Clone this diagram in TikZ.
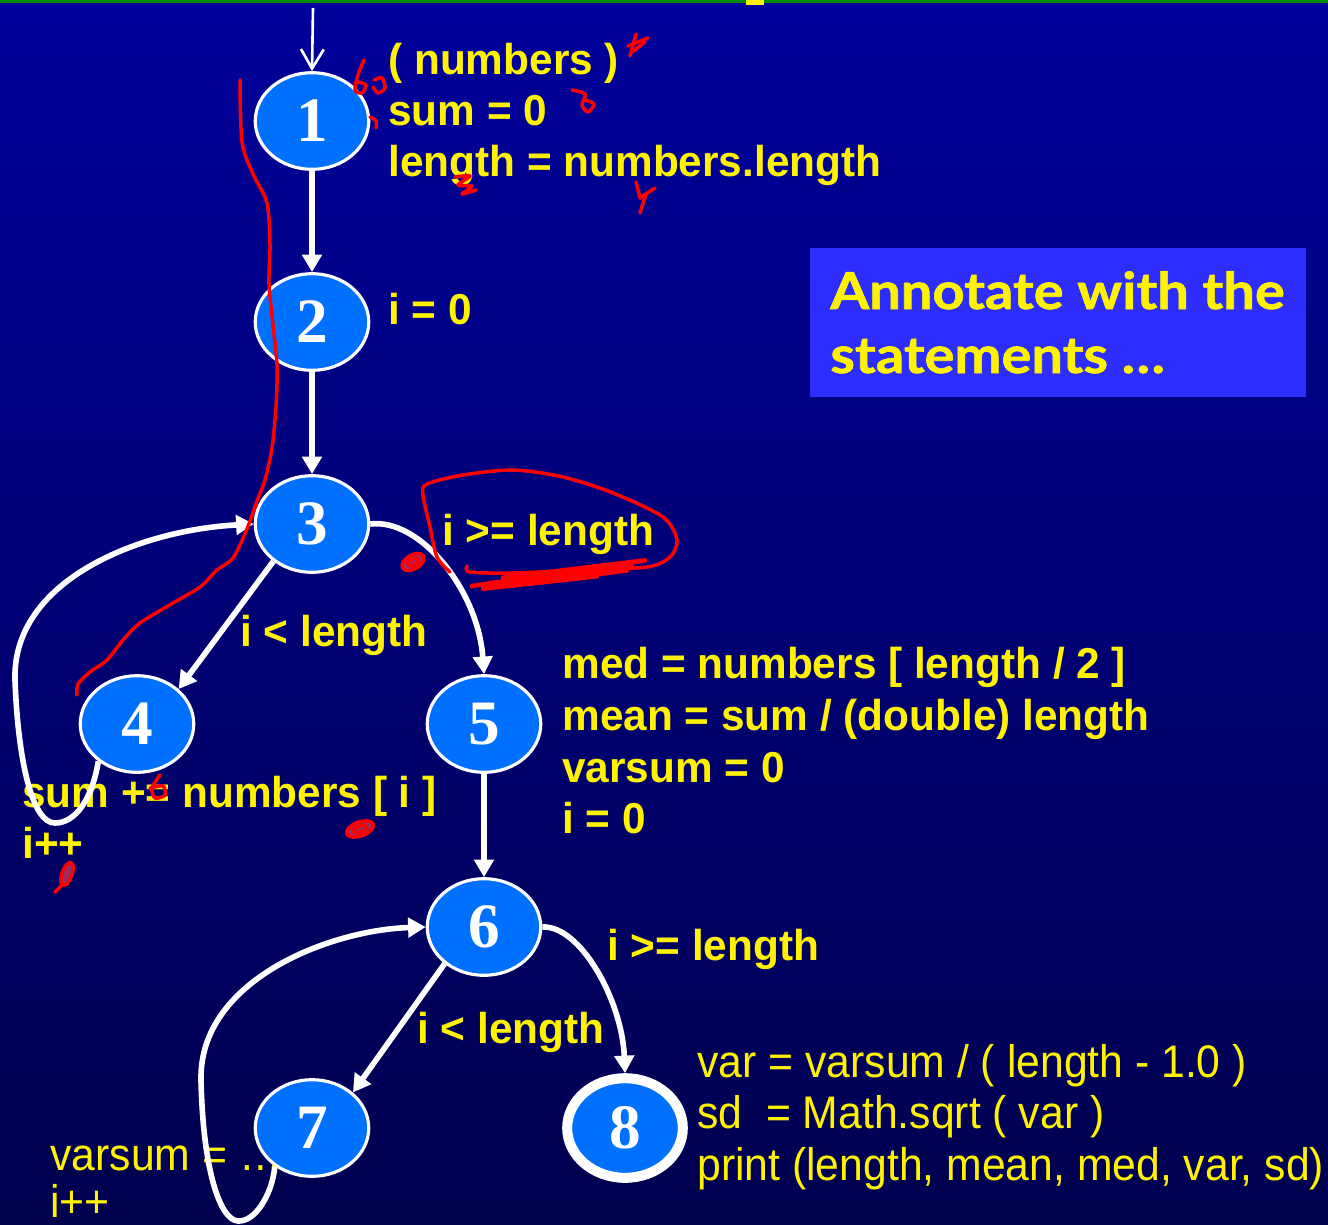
\documentclass[tikz,border=0pt]{standalone}
\usepackage{fontspec}
\setmainfont{Liberation Sans}
\newfontfamily\lblfont{Liberation Sans}[FakeStretch=0.98]
\newfontfamily\regfont{Liberation Sans}[FakeStretch=0.935]
\newfontfamily\numfont{Liberation Serif}
\newfontfamily\boxfont{Lato}[FakeStretch=1.1,FakeBold=1.2]
\usetikzlibrary{shapes.geometric,arrows.meta}
\definecolor{bgtop}{RGB}{0,0,155}
\definecolor{bgbot}{RGB}{0,0,78}
\definecolor{nodeblue}{RGB}{0,112,255}
\definecolor{boxblue}{RGB}{45,45,255}
\definecolor{topgreen}{RGB}{0,140,0}
\definecolor{inkred}{RGB}{255,0,0}
\begin{document}
\begin{tikzpicture}[x=0.02cm,y=-0.02cm,
  cfg/.style={ellipse, draw=white, line width=1.8pt, fill=nodeblue,
    minimum width=64.6pt, minimum height=55pt, inner sep=0pt,
    font=\numfont\bfseries\fontsize{36pt}{36pt}\selectfont, text=white},
  cfgend/.style={cfg, line width=5.7pt, minimum width=65.8pt, minimum height=56.7pt},
  lbl/.style={anchor=base west, inner sep=0pt, text=yellow,
    font=\lblfont\bfseries\fontsize{24.6pt}{29pt}\selectfont},
  reg/.style={anchor=base west, inner sep=0pt, text=yellow,
    font=\regfont\fontsize{26pt}{29pt}\selectfont},
  boxtxt/.style={anchor=base west, inner sep=0pt, text=yellow,
    font=\boxfont\bfseries\fontsize{29pt}{34pt}\selectfont},
  flow/.style={draw=white, line width=3.2pt, -{Triangle[length=10pt,width=11pt]}},
  ink/.style={draw=inkred, line width=2pt, line cap=round, line join=round}
]
\useasboundingbox (0,0) rectangle (1328,1224);
% background
\shade[top color=bgtop, bottom color=bgbot] (0,0) rectangle (1328,1224);
\fill[topgreen] (0,0) rectangle (1328,3);
\fill[yellow] (746,0) rectangle (764,5);

% nodes
\node[cfg] (n1) at (312,121) {1};
\node[cfg] (n2) at (312,322) {2};
\node[cfg] (n3) at (312,524) {3};
\node[cfg] (n4) at (137,724) {4};
\node[cfg] (n5) at (484,724) {5};
\node[cfg] (n6) at (484,927) {6};
\node[cfg] (n7) at (312,1128) {7};
\node[cfgend] (n8) at (625,1128) {8};

% labels
\node[lbl] (t1a) at (388,74) {( numbers )};
\node[lbl] (t1b) at (388,125) {sum = 0};
\node[lbl] (t1c) at (388,176) {length = numbers.length};
\node[lbl] (t2) at (388,324) {i = 0};
\node[lbl] (t3) at (442,545) {i >= length};
\node[lbl] (t34) at (240,646) {i < length};
\node[lbl] (t5a) at (562,678) {med = numbers [ length / 2 ]};
\node[lbl] (t5b) at (562,730) {mean = sum / (double) length};
\node[lbl] (t5c) at (562,782) {varsum = 0};
\node[lbl] (t5d) at (562,833) {i = 0};
\node[lbl] (t4a) at (22,807) {sum += numbers [ i ]};
\node[lbl] (t4b) at (22,858) {i++};
\node[lbl] (t6) at (607,960) {i >= length};
\node[lbl] (t67) at (417,1043) {i < length};
\node[reg] (t8a) at (697,1077) {var = varsum / ( length - 1.0 )};
\node[reg] (t8b) at (697,1128) {sd\ \ = Math.sqrt ( var )};
\node[reg] (t8c) at (697,1180) {print (length, mean, med, var, sd)};
\node[reg] (t7a) at (50,1170) {varsum = …};
\node[reg] (t7b) at (50,1217) {i++};

% annotation box
\node[fill=boxblue, anchor=north west, minimum width=282.3pt, minimum height=84.5pt, inner sep=0pt] (box) at (810,248) {};
\node[boxtxt] (boxa) at (830,309) {Annotate with the};
\node[boxtxt] (boxb) at (830,373) {statements …};

% connectors
\coordinate (entry) at (313,8);
\draw[white, line width=1.5pt, -{Straight Barb[length=11pt,width=13pt]}] (entry) -- (n1.north);
\draw[flow] (n1) -- (n2);
\draw[flow] (n2) -- (n3);
\draw[flow] (n3.224) -- (n4.40);
\draw[flow] (n3.east) .. controls (420,518) and (478,590) .. (n5.north);
\draw[flow] (n4.224) .. controls (92,800) and (75,823) .. (55,823)
   .. controls (32,823) and (18,760) .. (15,680)
   .. controls (12,580) and (140,530) .. (n3.west);
\draw[flow] (n5) -- (n6);
\draw[flow] (n6.223) -- (n7.41);
\draw[flow] (n6.east) .. controls (580,925) and (622,1000) .. (n8.north);
\draw[flow] (n7.226) .. controls (272,1195) and (255,1222) .. (238,1221)
   .. controls (220,1220) and (203,1170) .. (201,1080)
   .. controls (199,980) and (330,930) .. (n6.west);

% red ink annotations
\draw[ink] plot[smooth] coordinates {(240,80) (242,142) (253,174) (267,203) (270,244) (269,284) (273,325) (277,366) (276,407) (272,448) (265,480) (257,501) (247,529) (233,558) (217,570) (200,587) (173,603) (140,623) (123,640) (107,660) (90,672) (78,684) (77,695)};
\draw[ink] plot[smooth] coordinates {(450,572) (437,557) (430,527) (423,495) (427,484) (463,475) (513,470) (563,477) (613,493) (663,517) (677,540) (670,557) (647,567) (580,570) (513,573) (470,572) (467,566)};
\draw[ink, line width=2.6pt, rounded corners=3pt] (472,586) -- (648,560) -- (500,578) -- (635,566) -- (480,589) -- (600,576) -- (520,584) -- (630,570) -- (490,583);
\draw[ink, fill=inkred!60!nodeblue] (413,562) ellipse [x radius=12, y radius=7, rotate=30];
\draw[ink] (413,562) ellipse [x radius=6, y radius=3, rotate=30];
\draw[ink] plot[smooth] coordinates {(364,60) (358,75) (355,90) (362,93) (366,85) (358,82)};
\draw[ink] plot[smooth] coordinates {(374,80) (382,78) (385,88) (378,93) (373,87)};
\draw[ink] (630,56) -- (636,34);
\draw[ink] (628,46) -- (648,38);
\draw[ink] (632,52) -- (645,42);
\draw[ink] plot[smooth] coordinates {(572,90) (585,94) (582,105) (588,112) (594,104) (585,100)};
\draw[ink] plot[smooth] coordinates {(455,177) (470,176) (458,185) (472,186) (462,194) (476,190)};
\draw[ink] (636,182) -- (640,198) -- (655,188);
\draw[ink] (646,194) -- (640,213);
\draw[ink] plot[smooth] coordinates {(370,117) (376,121) (376,128)};
\draw[ink] plot[smooth] coordinates {(160,775) (152,788) (155,798) (165,795) (163,786) (150,788)};
\draw[ink, fill=inkred!60!nodeblue] (360,829) ellipse [x radius=14, y radius=7, rotate=20];
\draw[ink] (360,829) ellipse [x radius=7, y radius=3, rotate=20];
\draw[ink, fill=inkred!60!nodeblue] (67,874) ellipse [x radius=5, y radius=12, rotate=-20];
\draw[ink] (55,892) -- (63,884);
\end{tikzpicture}
\end{document}
